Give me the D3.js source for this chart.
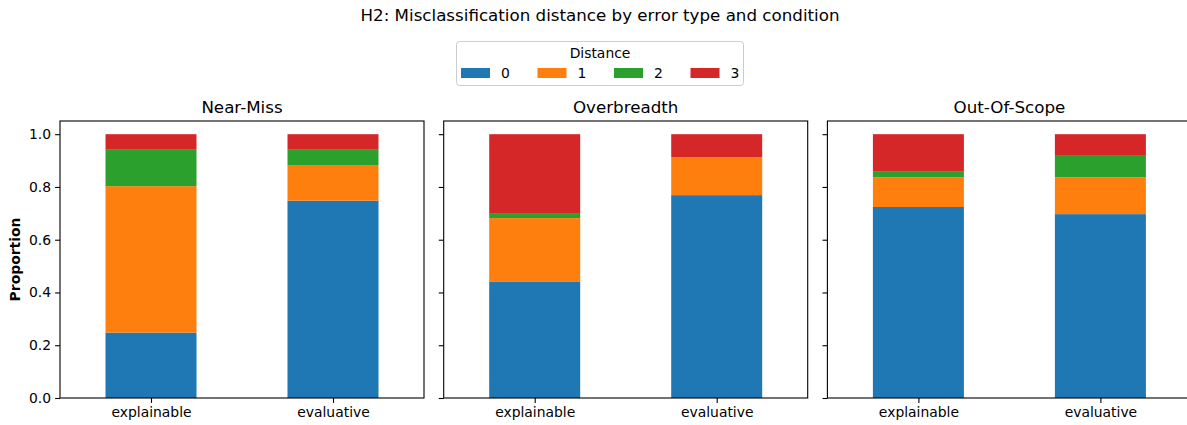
<!DOCTYPE html>
<html>
<head>
<meta charset="utf-8">
<script src="https://cdn.jsdelivr.net/npm/d3@7"></script>
<style>
  body { margin: 0; background: #fff; }
  text { font-family: "DejaVu Sans", sans-serif; fill: #000; }
</style>
</head>
<body>
<script>
// panels, conditions and legend keys
var errorTypes = ["Near-Miss", "Overbreadth", "Out-Of-Scope"];
var conditions = ["explainable", "evaluative"];
var distances = ["0", "1", "2", "3"];
var yTicks = [0, 0.2, 0.4, 0.6, 0.8, 1.0];

// proportion per distance, ordered panel by panel: [explainable, evaluative] x 3
var dist0 = [0.248, 0.748, 0.440, 0.769, 0.724, 0.697];
var dist1 = [0.555, 0.135, 0.242, 0.144, 0.113, 0.140];
var dist2 = [0.138, 0.058, 0.019, 0.000, 0.023, 0.081];
var dist3 = [0.059, 0.059, 0.299, 0.087, 0.140, 0.082];

var colors = ["#1f77b4", "#ff7f0e", "#2ca02c", "#d62728"];

var w = 1187, h = 425;
var panelW = 364, gap = 19.7;
var left0 = 60, topY = 121, bottomY = 398;

var svg = d3.select("body").append("svg")
  .attr("width", w)
  .attr("height", h);

// figure title
svg.append("text")
  .attr("x", 600).attr("y", 21)
  .attr("text-anchor", "middle")
  .attr("font-size", "16.7px")
  .text("H2: Misclassification distance by error type and condition");

// legend
var legend = svg.append("g");
legend.append("rect")
  .attr("x", 456.5).attr("y", 41.5)
  .attr("width", 287).attr("height", 44)
  .attr("rx", 3)
  .attr("fill", "#fff")
  .attr("stroke", "#ccc");
legend.append("text")
  .attr("x", 600).attr("y", 58)
  .attr("text-anchor", "middle")
  .attr("font-size", "13.9px")
  .text("Distance");
var legX = d3.scaleLinear().domain([0, 1]).range([461, 537.5]);
distances.forEach(function(d, i) {
  legend.append("rect")
    .attr("x", legX(i)).attr("y", 68)
    .attr("width", 29).attr("height", 10)
    .attr("fill", colors[i]);
  legend.append("text")
    .attr("x", legX(i) + 40).attr("y", 78)
    .attr("font-size", "13.9px")
    .text(d);
});

var y = d3.scaleLinear().domain([0, 1.05]).range([bottomY, topY]);
var series = [dist0, dist1, dist2, dist3];

errorTypes.forEach(function(et, p) {
  var x0 = left0 + p * (panelW + gap);
  var g = svg.append("g").attr("transform", "translate(" + x0 + ",0)");

  var x = d3.scaleLinear().domain([-0.5, 1.5]).range([0, panelW]);

  var rows = conditions.map(function(c, ci) {
    var row = { condition: c, idx: ci };
    distances.forEach(function(d, di) { row[d] = series[di][p * 2 + ci]; });
    return row;
  });
  var stacked = d3.stack().keys(distances)(rows);

  g.append("g")
    .selectAll("g")
    .data(stacked)
    .enter()
    .append("g")
    .attr("fill", function(s, i) { return colors[i]; })
    .selectAll("rect")
    .data(function(s) { return s; })
    .enter()
    .append("rect")
    .attr("x", function(d) { return x(d.data.idx - 0.25); })
    .attr("width", function(d) { return x(0.25) - x(-0.25); })
    .attr("y", function(d) { return y(d[1]); })
    .attr("height", function(d) { return y(d[0]) - y(d[1]); });

  // y axis
  var yAxis = d3.axisLeft(y).tickValues(yTicks).tickSize(4.9).tickPadding(4)
    .tickFormat(p === 0 ? d3.format(".1f") : "");
  var ya = g.append("g").call(yAxis);
  ya.select(".domain").remove();
  ya.selectAll("line").attr("stroke", "#000").attr("stroke-width", 1.1);
  ya.selectAll("text").attr("font-size", "13.9px").attr("font-family", "DejaVu Sans");

  // x axis
  var xAxis = d3.axisBottom(x).tickValues([0, 1]).tickSize(4.9).tickPadding(4.5)
    .tickFormat(function(d) { return conditions[d]; });
  var xa = g.append("g").attr("transform", "translate(0," + bottomY + ")").call(xAxis);
  xa.select(".domain").remove();
  xa.selectAll("line").attr("stroke", "#000").attr("stroke-width", 1.1);
  xa.selectAll("text").attr("font-size", "13.9px").attr("font-family", "DejaVu Sans");

  // frame
  g.append("rect")
    .attr("x", 0).attr("y", topY)
    .attr("width", panelW).attr("height", bottomY - topY)
    .attr("fill", "none")
    .attr("stroke", "#000")
    .attr("stroke-width", 1.1);

  // panel title
  g.append("text")
    .attr("x", panelW / 2).attr("y", topY - 8)
    .attr("text-anchor", "middle")
    .attr("font-size", "16.7px")
    .text(et);
});

svg.append("text")
  .attr("transform", "translate(20," + ((topY + bottomY) / 2) + ") rotate(-90)")
  .attr("text-anchor", "middle")
  .attr("font-size", "13.9px")
  .attr("font-weight", "bold")
  .text("Proportion");
</script>
</body>
</html>
